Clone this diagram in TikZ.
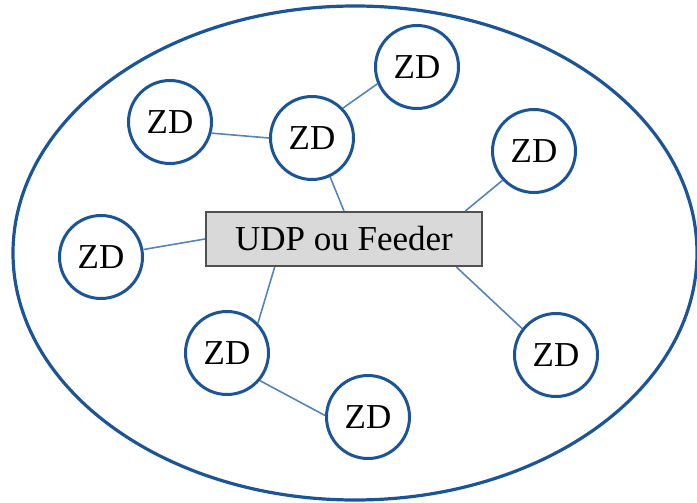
\documentclass[tikz,border=0pt]{standalone}
\usepackage{fontspec}
\setmainfont{Liberation Serif}
\usetikzlibrary{positioning,calc}
\definecolor{zdblue}{RGB}{28,84,152}
\definecolor{linkblue}{RGB}{84,132,186}
\definecolor{boxgray}{RGB}{217,217,217}
\tikzset{
zd/.style={
  circle,
  draw=zdblue,
  fill=white,
  line width=1.5pt,
  minimum size=41.5pt,
  inner sep=0pt,
  font=\fontsize{17.5}{20}\selectfont
  },
udpbox/.style={
  rectangle,
  draw={rgb,255:red,80;green,80;blue,80},
  fill=boxgray,
  line width=1pt,
  minimum width=138pt,
  minimum height=27pt,
  inner sep=0pt,
  font=\fontsize{17.5}{20}\selectfont
  },
link/.style={draw=linkblue, line width=0.8pt},
%zone/.style={draw=zdblue, line width=1.5pt}
}

\begin{document}
\begin{tikzpicture}[x=0.5pt,y=-0.5pt]
    \useasboundingbox (0,0) rectangle (697,503);
    \draw [zdblue, line width=1.6pt] (355,253) ellipse [x radius=342, y radius=247];

    \node [udpbox] (udp) at (344,239) {UDP ou Feeder};

    \node [zd] (zd1) at (417,67) {ZD};
    \node [zd] (zd2) at (170,122) {ZD};
    \node [zd] (zd3) at (312,138) {ZD};
    \node [zd] (zd4) at (534,151) {ZD};
    \node [zd] (zd5) at (101,257) {ZD};
    \node [zd] (zd6) at (227,353) {ZD};
    \node [zd] (zd7) at (556,355) {ZD};
    \node [zd] (zd8) at (368,417) {ZD};

    \draw [link] (zd2.-15) -- (zd3.180);
    \draw [link] (zd3.44) -- (zd1.203);
    \draw [link] (zd3.-65) -- (udp.north);
    \draw [link] (zd4.223) -- (udp.13.5);
    \draw [link] (zd5.10) -- (udp.west);
    \draw [link] (udp.202) -- (zd6.44);
    \draw [link] (udp.-14.6) -- (zd7.142);
    \draw [link] (zd6.-40) -- (zd8.178);
\end{tikzpicture}
\end{document}
